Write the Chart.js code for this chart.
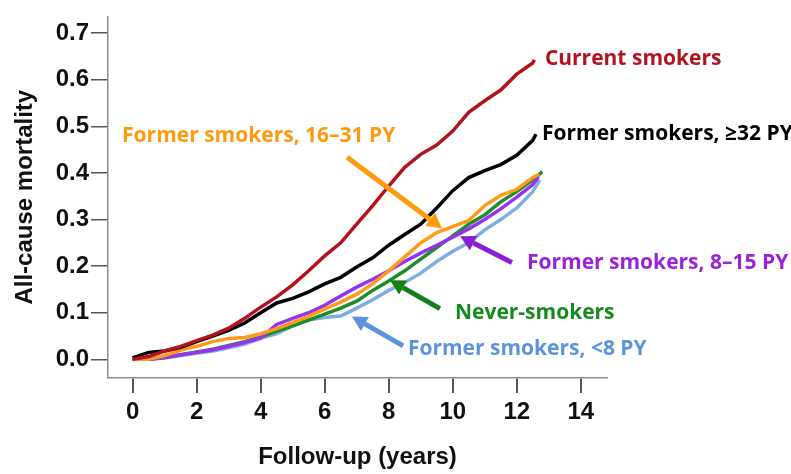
<!DOCTYPE html>
<html>
<head>
<meta charset="utf-8">
<script src="https://cdn.jsdelivr.net/npm/chart.js@4/dist/chart.umd.min.js"></script>
<style>
  html, body { margin: 0; padding: 0; background: #fff; }
  #wrap { width: 791px; height: 474px; }
</style>
</head>
<body>
<div id="wrap"><canvas id="chart" width="791" height="474"></canvas></div>
<script>
// follow-up time (years); last point of each series is at its own end time
const followUp = [0, 0.5, 1, 1.5, 2, 2.5, 3, 3.5, 4, 4.5, 5, 5.5, 6, 6.5, 7, 7.5, 8, 8.5, 9, 9.5, 10, 10.5, 11, 11.5, 12, 12.5];
const endYear = { current: 12.55, former32: 12.6, former16: 12.7, former8: 12.68, never: 12.8, former0: 12.72 };

// cumulative all-cause mortality
const current  = [0, 0.006, 0.018, 0.028, 0.04, 0.052, 0.067, 0.088, 0.112, 0.134, 0.16, 0.19, 0.222, 0.25, 0.29, 0.33, 0.372, 0.412, 0.44, 0.46, 0.49, 0.53, 0.555, 0.578, 0.612, 0.636, 0.643];
const former32 = [0.003, 0.015, 0.018, 0.026, 0.038, 0.05, 0.062, 0.078, 0.1, 0.121, 0.131, 0.145, 0.162, 0.176, 0.198, 0.218, 0.245, 0.268, 0.29, 0.325, 0.362, 0.39, 0.405, 0.418, 0.438, 0.47, 0.483];
const former16 = [0, 0, 0.008, 0.02, 0.028, 0.038, 0.045, 0.047, 0.055, 0.066, 0.079, 0.093, 0.108, 0.123, 0.14, 0.162, 0.19, 0.22, 0.25, 0.272, 0.285, 0.298, 0.33, 0.352, 0.365, 0.39, 0.398];
const former8  = [0, 0, 0.004, 0.01, 0.015, 0.02, 0.028, 0.036, 0.046, 0.075, 0.088, 0.1, 0.116, 0.136, 0.155, 0.172, 0.19, 0.21, 0.228, 0.245, 0.262, 0.28, 0.3, 0.323, 0.348, 0.375, 0.392];
const never    = [0, 0, 0.004, 0.01, 0.016, 0.022, 0.03, 0.038, 0.048, 0.06, 0.072, 0.084, 0.097, 0.11, 0.125, 0.148, 0.168, 0.19, 0.215, 0.24, 0.265, 0.29, 0.31, 0.338, 0.36, 0.385, 0.403];
const former0  = [0, 0, 0.003, 0.008, 0.013, 0.018, 0.025, 0.033, 0.045, 0.055, 0.072, 0.085, 0.09, 0.093, 0.11, 0.128, 0.148, 0.165, 0.185, 0.21, 0.232, 0.25, 0.278, 0.3, 0.325, 0.36, 0.385];

const xTicks = [0, 2, 4, 6, 8, 10, 12, 14];
const yTicks = [0, 0.1, 0.2, 0.3, 0.4, 0.5, 0.6, 0.7];

// labels and arrows, positioned in data units
const notes = [
  { text: 'Current smokers',          color: '#b3121f', x: 12.88, y: 0.644 },
  { text: 'Former smokers, \u226532 PY', color: '#000000', x: 12.79, y: 0.484 },
  { text: 'Former smokers, 16\u201331 PY', color: '#ff9a0e', x: -0.33, y: 0.48 },
  { text: 'Former smokers, 8\u201315 PY', color: '#9a22d8', x: 12.32, y: 0.2075 },
  { text: 'Never-smokers',            color: '#178a1f', x: 10.07, y: 0.0985 },
  { text: 'Former smokers, <8 PY',    color: '#5c94dc', x: 8.6,  y: 0.023 }
];
const arrows = [
  { color: '#ff9a0e', from: [6.70, 0.434], to: [9.67, 0.281] },
  { color: '#8b1ed0', from: [11.85, 0.208], to: [10.23, 0.264] },
  { color: '#118016', from: [9.6, 0.109], to: [8.04, 0.170] },
  { color: '#5c94dc', from: [8.45, 0.029], to: [6.85, 0.092] }
];

const tickFont = { family: '"Liberation Sans", Arial, sans-serif', size: 24, weight: 'bold' };

function points(values, last) {
  return values.map((v, i) => ({ x: i < followUp.length ? followUp[i] : last, y: v }));
}

function line(label, values, last, color) {
  return {
    label: label,
    data: points(values, last),
    borderColor: color,
    borderWidth: 3.5,
    pointRadius: 0,
    tension: 0,
    fill: false
  };
}

const notesPlugin = {
  id: 'notes',
  afterDatasetsDraw(chart) {
    const ctx = chart.ctx;
    const sx = chart.scales.x, sy = chart.scales.y;
    ctx.save();
    arrows.forEach(a => {
      const x1 = sx.getPixelForValue(a.from[0]), y1 = sy.getPixelForValue(a.from[1]);
      const x2 = sx.getPixelForValue(a.to[0]), y2 = sy.getPixelForValue(a.to[1]);
      const ang = Math.atan2(y2 - y1, x2 - x1);
      const head = 15, half = 8;
      const bx = x2 - head * Math.cos(ang), by = y2 - head * Math.sin(ang);
      ctx.strokeStyle = a.color;
      ctx.fillStyle = a.color;
      ctx.lineWidth = 5;
      ctx.beginPath();
      ctx.moveTo(x1, y1);
      ctx.lineTo(bx, by);
      ctx.stroke();
      ctx.beginPath();
      ctx.moveTo(x2, y2);
      ctx.lineTo(bx + half * Math.sin(ang), by - half * Math.cos(ang));
      ctx.lineTo(bx - half * Math.sin(ang), by + half * Math.cos(ang));
      ctx.closePath();
      ctx.fill();
    });
    ctx.font = 'bold 21px "Open Sans", sans-serif';
    ctx.textAlign = 'left';
    ctx.textBaseline = 'middle';
    notes.forEach(n => {
      ctx.fillStyle = n.color;
      ctx.fillText(n.text, sx.getPixelForValue(n.x), sy.getPixelForValue(n.y));
    });
    ctx.restore();
  }
};

new Chart(document.getElementById('chart'), {
  type: 'line',
  data: {
    datasets: [
      line('Current smokers', current, endYear.current, '#b3121f'),
      line('Former smokers, \u226532 PY', former32, endYear.former32, '#000000'),
      line('Former smokers, 16\u201331 PY', former16, endYear.former16, '#ff9a1a'),
      line('Former smokers, 8\u201315 PY', former8, endYear.former8, '#9b30f0'),
      line('Never-smokers', never, endYear.never, '#1e8c2a'),
      line('Former smokers, <8 PY', former0, endYear.former0, '#7eaee0')
    ]
  },
  options: {
    responsive: false,
    animation: false,
    layout: { padding: { left: 0, top: 8, right: 184, bottom: 0 } },
    plugins: { legend: { display: false }, tooltip: { enabled: false } },
    scales: {
      x: {
        type: 'linear',
        min: -0.77,
        max: 14.82,
        afterBuildTicks: s => { s.ticks = xTicks.map(v => ({ value: v })); },
        afterFit: s => { s.height = 96; },
        border: { display: true, color: '#8c8c8c', width: 1.5 },
        grid: { display: true, drawOnChartArea: false, drawTicks: true, tickLength: 15, color: '#555', lineWidth: 2 },
        ticks: { color: '#111', font: tickFont, padding: 5, maxRotation: 0 },
        title: { display: true, text: 'Follow-up (years)', color: '#111', font: tickFont, padding: { top: 8, bottom: 2 } }
      },
      y: {
        type: 'linear',
        min: -0.04,
        max: 0.736,
        afterBuildTicks: s => { s.ticks = yTicks.map(v => ({ value: v })); },
        afterFit: s => { s.width = 108; },
        border: { display: true, color: '#8c8c8c', width: 1.5 },
        grid: { display: true, drawOnChartArea: false, drawTicks: true, tickLength: 17, color: '#555', lineWidth: 1.5 },
        ticks: { color: '#111', font: tickFont, padding: 2, callback: v => v.toFixed(1) },
        title: { display: true, text: 'All-cause mortality', color: '#111', font: tickFont, padding: { top: 11, bottom: 0 } }
      }
    }
  },
  plugins: [notesPlugin]
});
</script>
</body>
</html>
